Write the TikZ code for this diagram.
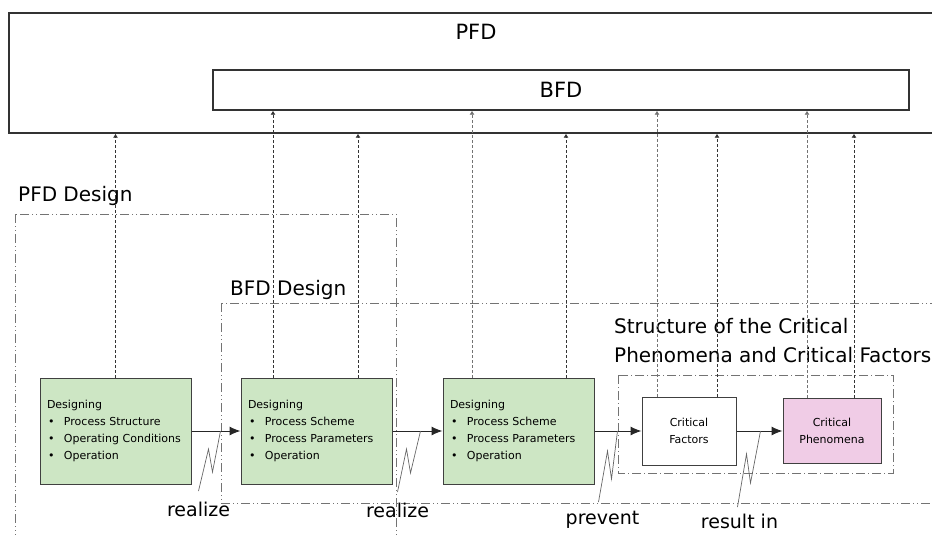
\documentclass[tikz,border=0pt]{standalone}
\usepackage{fontspec}
\setmainfont{DejaVu Sans}
\usetikzlibrary{arrows.meta}
\definecolor{dsgngreen}{RGB}{205,230,196}
\definecolor{phenpink}{RGB}{240,204,230}
\newcommand{\itm}{\hspace{1pt}\makebox[16pt][l]{\textbullet}}

\begin{document}
\begin{tikzpicture}[x=1pt, y=-1pt,
    block/.style={draw=black!80, line width=1.3pt},
    biglbl/.style={font=\fontsize{21}{29}\selectfont},
    reglbl/.style={font=\fontsize{20}{29}\selectfont, inner sep=0pt},
    dsgnbox/.style={draw=black!75, line width=1pt, fill=dsgngreen,
        minimum width=151pt, minimum height=106pt, text width=137pt,
        inner sep=7pt, align=left, font=\fontsize{11}{17.3}\selectfont},
    critbox/.style={draw=black!75, line width=1pt, minimum height=66pt,
        align=center, font=\fontsize{11}{17}\selectfont},
    region/.style={draw=black!55, line width=0.8pt,
        dash pattern=on 9pt off 3pt on 1pt off 3pt on 1pt off 3pt},
    subregion/.style={draw=black!55, line width=0.8pt,
        dash pattern=on 9pt off 3pt on 1pt off 3pt},
    flow/.style={draw=black!85, line width=1pt, -{Latex[length=11pt,width=9pt]}},
    uparrow/.style={draw=black!80, line width=0.7pt, dash pattern=on 3pt off 2pt,
        -{Latex[length=4pt,width=5pt]}},
    bfdarrow/.style={uparrow, draw=black!55},
    leader/.style={draw=black!60, line width=0.7pt},
    rlbl/.style={font=\fontsize{19}{24}\selectfont, inner sep=1pt}]

    \useasboundingbox (0,0) rectangle (932,535);
    \clip (0,0) rectangle (932,535);

    % PFD / BFD
    \node [block, minimum width=931pt, minimum height=120pt] (pfd) at (474.5,73) {};
    \node [biglbl, anchor=north, inner sep=1pt] at ([xshift=1.5pt, yshift=-11pt]pfd.north) {PFD};
    \node [block, biglbl, minimum width=696pt, minimum height=40pt] (bfd) at (561,90) {BFD};

    % Design regions
    \draw [region] (15,214) rectangle (396,560);
    \node [reglbl, anchor=base west] (pfd_dsgn) at (18,201) {PFD Design};
    \draw [region] (221,303) rectangle (960,503);
    \node [reglbl, anchor=base west] (bfd_dsgn) at (230,295) {BFD Design};
    \draw [subregion] (618,375) rectangle (893,473);
    \node [reglbl, anchor=north west, align=left] (crit_str) at (614,318)
        {Structure of the Critical\\Phenomena and Critical Factors};

    % Design blocks
    \node [dsgnbox] (dsgn_pfd) at (115.5,431) {Designing\\ \itm Process Structure\\ \itm Operating Conditions\\ \itm Operation};
    \node [dsgnbox] (dsgn_bfd) at (316.5,431) {Designing\\ \itm Process Scheme\\ \itm Process Parameters\\ \itm Operation};
    \node [dsgnbox] (dsgn_plant) at (518.5,431) {Designing\\ \itm Process Scheme\\ \itm Process Parameters\\ \itm Operation};

    % Critical factors / phenomena
    \node [critbox, minimum width=94pt, minimum height=68pt] (crit_fac) at (689,431) {Critical\\Factors};
    \node [critbox, fill=phenpink, minimum width=98pt, minimum height=65pt] (crit_phen) at (832,431) {Critical\\Phenomena};

    % Flow
    \draw [flow] (dsgn_pfd.east) -- (dsgn_bfd.west);
    \draw [flow] (dsgn_bfd.east) -- (dsgn_plant.west);
    \draw [flow] (dsgn_plant.east) -- (crit_fac.west);
    \draw [flow] (crit_fac.east) -- (crit_phen.west);

    % Up to PFD / BFD
    \draw [uparrow] (dsgn_pfd.north) -- (dsgn_pfd.north |- pfd.south);
    \draw [uparrow] ([xshift=-43.5pt]dsgn_bfd.north) -- ([xshift=-43.5pt]dsgn_bfd.north |- bfd.south);
    \draw [uparrow] ([xshift=41.5pt]dsgn_bfd.north) -- ([xshift=41.5pt]dsgn_bfd.north |- pfd.south);
    \draw [bfdarrow] ([xshift=-46.5pt]dsgn_plant.north) -- ([xshift=-46.5pt]dsgn_plant.north |- bfd.south);
    \draw [uparrow] ([xshift=47.5pt]dsgn_plant.north) -- ([xshift=47.5pt]dsgn_plant.north |- pfd.south);
    \draw [bfdarrow] ([xshift=-32pt]crit_fac.north) -- ([xshift=-32pt]crit_fac.north |- bfd.south);
    \draw [uparrow] ([xshift=28pt]crit_fac.north) -- ([xshift=28pt]crit_fac.north |- pfd.south);
    \draw [bfdarrow] ([xshift=-25pt]crit_phen.north) -- ([xshift=-25pt]crit_phen.north |- bfd.south);
    \draw [uparrow] ([xshift=22pt]crit_phen.north) -- ([xshift=22pt]crit_phen.north |- pfd.south);

    % Leaders
    \draw [leader] ([xshift=29pt]dsgn_pfd.east) -- ++(-8,41) -- ++(-4,-23) -- ++(-10,42)
        node [rlbl, below=10pt] (realize_a) {realize};
    \draw [leader] ([xshift=28pt]dsgn_bfd.east) -- ++(-10,42) -- ++(-4,-24) -- ++(-9,43)
        node [rlbl, below=10pt] (realize_b) {realize};
    \draw [leader] ([xshift=23pt]dsgn_plant.east) -- ++(-6,48) -- ++(-4,-28) -- ++(-9,51)
        node [rlbl, below=8pt, xshift=4pt] (prevent) {prevent};
    \draw [leader] ([xshift=24pt]crit_fac.east) -- ++(-10,52) -- ++(-4,-29) -- ++(-9,53)
        node [rlbl, below=6pt, xshift=2pt] (result_in) {result in};
\end{tikzpicture}
\end{document}
